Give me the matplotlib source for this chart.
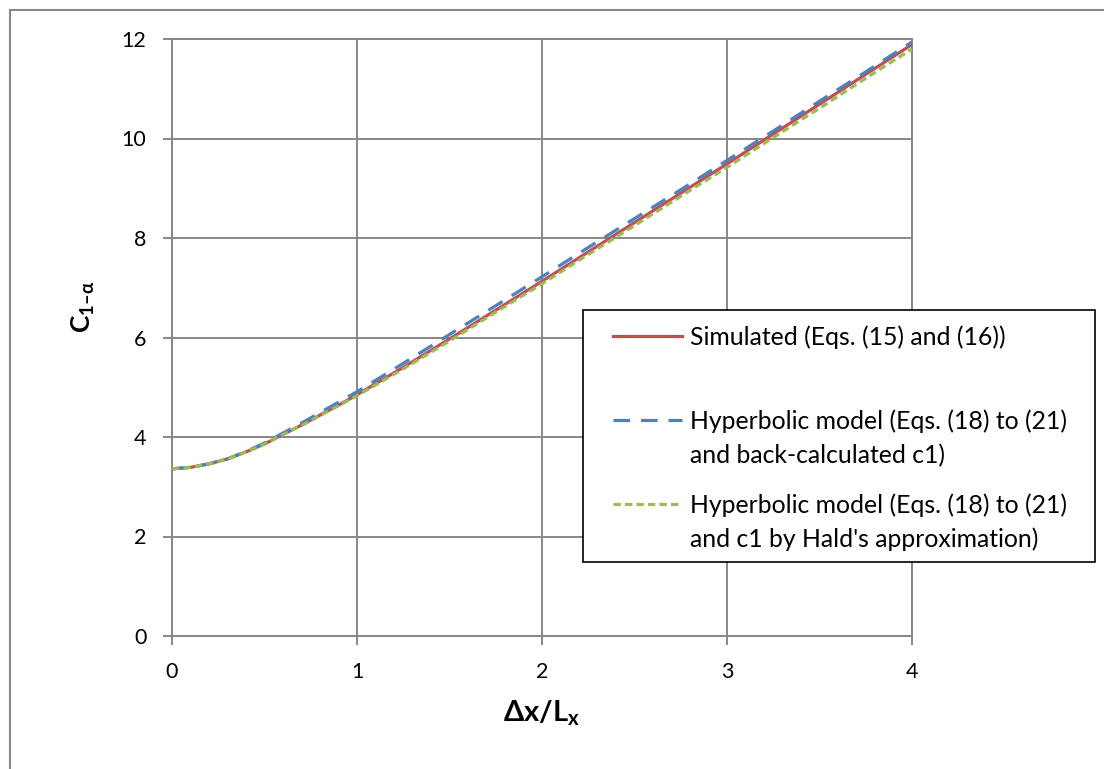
import matplotlib
matplotlib.use("Agg")
import matplotlib.pyplot as plt
from matplotlib.lines import Line2D
from matplotlib.patches import Rectangle

plt.rcParams['font.family'] = ['Lato', 'DejaVu Sans']
plt.rcParams['mathtext.fontset'] = 'custom'
plt.rcParams['mathtext.rm'] = 'Lato:bold'
plt.rcParams['mathtext.it'] = 'Lato:bold:italic'
plt.rcParams['mathtext.bf'] = 'Lato:bold'

# ---- data ----
x_vals = [0, 0.1, 0.2, 0.3, 0.4, 0.5, 0.6, 0.7, 0.8, 0.9, 1.0, 1.25, 1.5, 1.75,
          2.0, 2.25, 2.5, 2.75, 3.0, 3.25, 3.5, 3.75, 4.0]
simulated = [3.36, 3.39, 3.46, 3.56, 3.70, 3.86, 4.05, 4.24, 4.44, 4.64, 4.85,
             5.40, 5.97, 6.55, 7.13, 7.72, 8.31, 8.90, 9.49, 10.09, 10.69, 11.29, 11.89]
hyper_back = [3.36, 3.39, 3.46, 3.56, 3.71, 3.88, 4.08, 4.28, 4.49, 4.70, 4.91,
              5.48, 6.06, 6.64, 7.22, 7.81, 8.39, 8.97, 9.56, 10.15, 10.75, 11.34, 11.94]
hyper_hald = [3.36, 3.39, 3.46, 3.56, 3.70, 3.86, 4.05, 4.23, 4.43, 4.63, 4.83,
              5.37, 5.93, 6.51, 7.08, 7.67, 8.25, 8.84, 9.42, 10.02, 10.61, 11.21, 11.80]
labels = [["Simulated (Eqs. (15) and (16))"],
          ["Hyperbolic model (Eqs. (18) to (21)", "and back-calculated c1)"],
          ["Hyperbolic model (Eqs. (18) to (21)", "and c1 by Hald's approximation)"]]
x_ticks = [0, 1, 2, 3, 4]
y_ticks = [0, 2, 4, 6, 8, 10, 12]

W, H = 1104, 769
fig = plt.figure(figsize=(W / 100, H / 100), dpi=100)
fig.patch.set_facecolor('white')

def fx(p):
    return p / W

def fy(p):
    return 1 - p / H

ax = fig.add_axes([fx(172), fy(636), fx(912) - fx(172), fy(39) - fy(636)])

grid_c = '#878787'
red = '#C0504D'
blue = '#4F81BD'
green = '#9BBB59'
lw = 2.3

ax.plot(x_vals, simulated, color=red, lw=lw, solid_capstyle='butt', zorder=3)
ax.plot(x_vals, hyper_back, color=blue, lw=lw, linestyle=(0, (5.2, 3.4)), zorder=4)
ax.plot(x_vals, hyper_hald, color=green, lw=lw, linestyle=(0, (2.3, 1.3)), zorder=5)

ax.set_xlim(0, 4)
ax.set_ylim(0, 12)
ax.set_xticks(x_ticks)
ax.set_yticks(y_ticks)
ax.grid(True, color=grid_c, lw=1.4)
ax.set_axisbelow(True)
for s in ax.spines.values():
    s.set_color(grid_c)
    s.set_linewidth(1.4)
ax.tick_params(axis='both', color=grid_c, width=1.4, length=6.5, direction='out',
               labelsize=15.5, labelcolor='black')
ax.tick_params(axis='y', pad=12)
ax.tick_params(axis='x', pad=12)

ax.set_xlabel(r'$\Delta\mathrm{x/L}_{\mathrm{x}}$', fontsize=21, labelpad=12)
ax.set_ylabel('$\\mathrm{C}_{\\mathrm{1\u2013\\alpha}}$', fontsize=19)
ax.yaxis.set_label_coords((97 - 172) / 740, (636 - 307) / 597)

# outer chart border (only left/top visible in the crop)
fig.add_artist(Rectangle((fx(10), -1), 5, fy(10) + 1, transform=fig.transFigure,
                         fill=False, edgecolor='#898989', lw=1.5))

# legend box drawn manually (Excel-style layout)
fig.add_artist(Rectangle((fx(583), fy(562)), fx(1095) - fx(583), fy(310) - fy(562),
                         transform=fig.transFigure, facecolor='white',
                         edgecolor='black', lw=1.2, zorder=10))
colors = [red, blue, green]
styles = ['-', (0, (5.2, 3.4)), (0, (2.3, 1.3))]
ys = [336, 420, 504]
for labl, c, st, yy in zip(labels, colors, styles, ys):
    fig.add_artist(Line2D([fx(613), fx(682)], [fy(yy), fy(yy)], transform=fig.transFigure,
                          color=c, lw=lw, linestyle=st, zorder=11))
    for i, line in enumerate(labl):
        fig.text(fx(690), fy(yy + 9 + 34 * i), line, ha='left', va='baseline',
                 fontsize=17.8, zorder=11)

fig.savefig('out.png', dpi=100)
